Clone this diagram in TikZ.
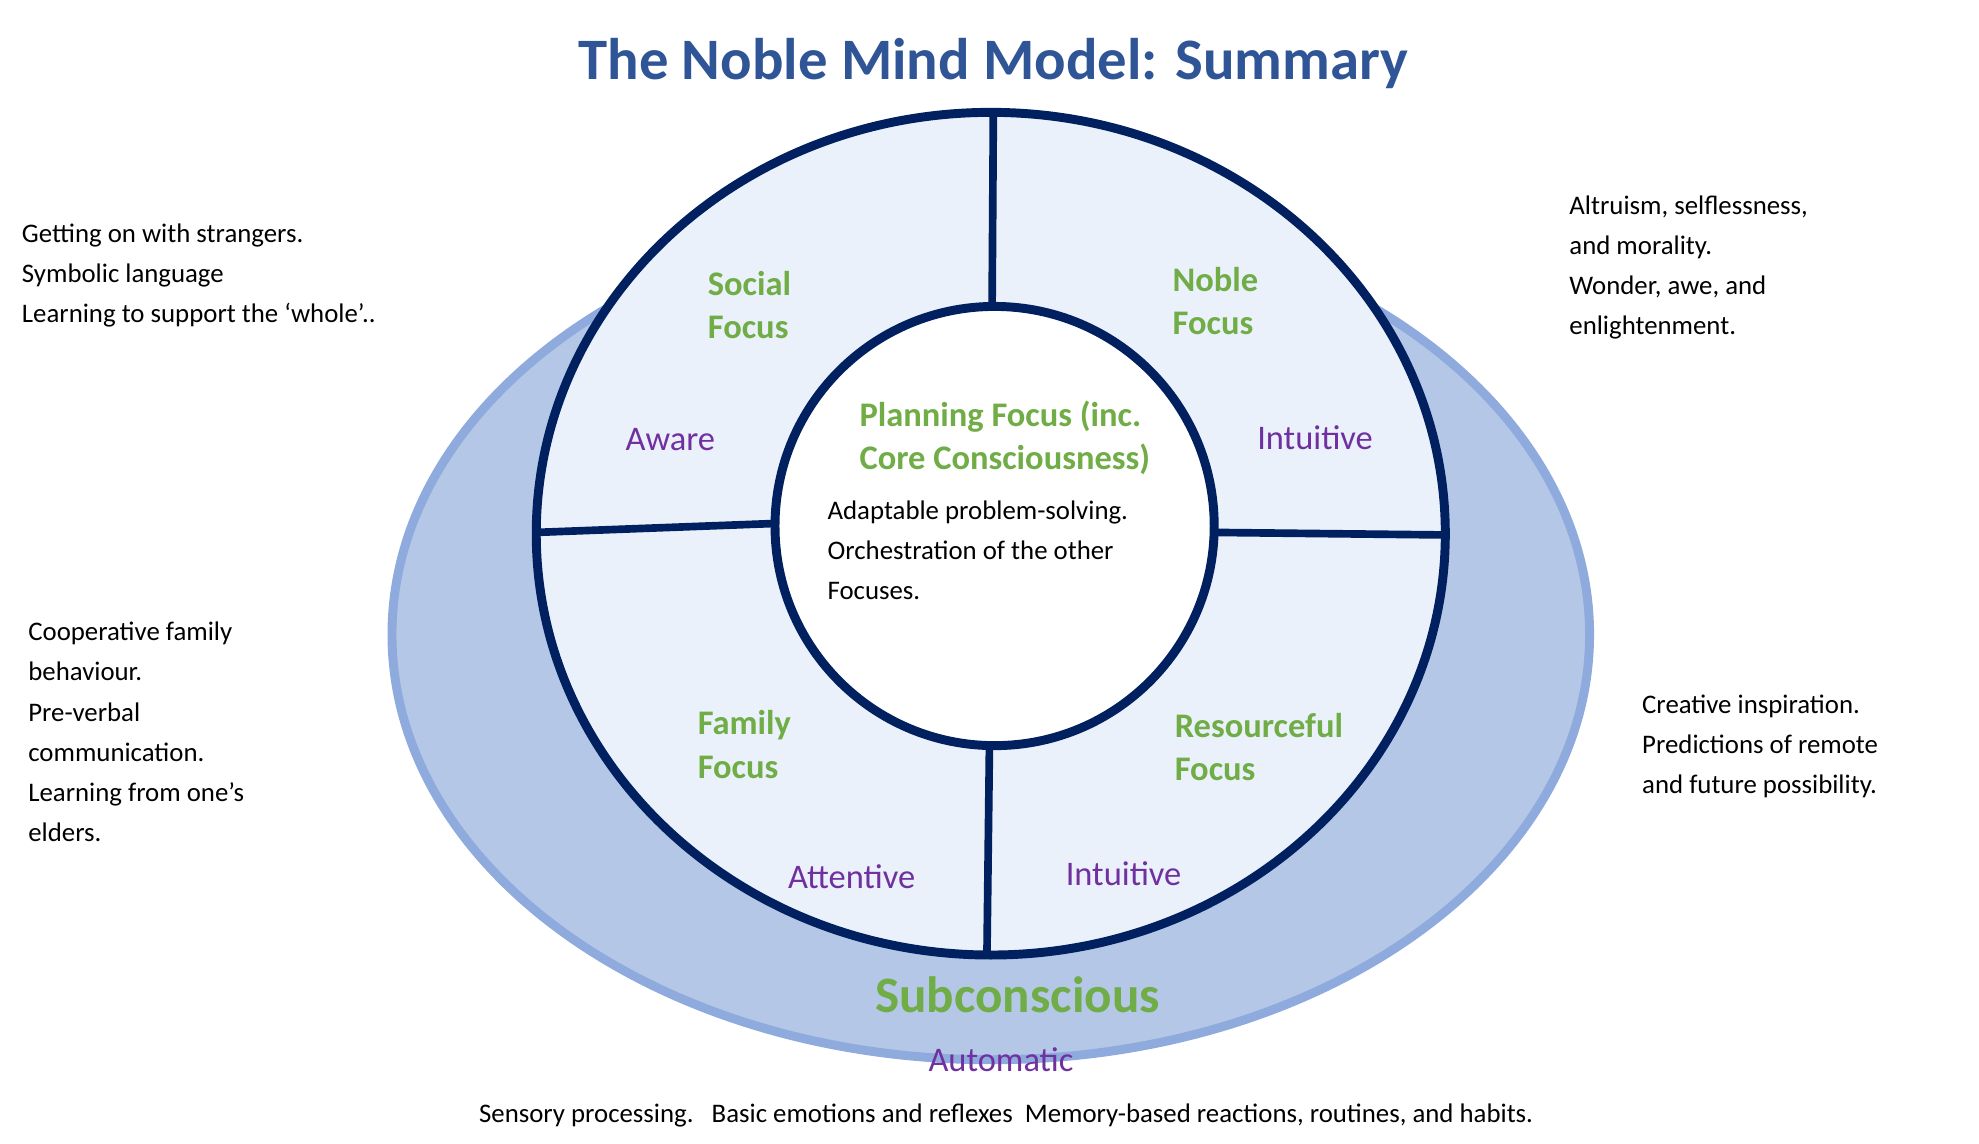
\documentclass[tikz,border=0pt]{standalone}
\usepackage{fontspec}
\setmainfont{Carlito}
\definecolor{navy}{HTML}{002060}
\definecolor{gr}{HTML}{70AD47}
\definecolor{pu}{HTML}{7030A0}
\definecolor{ti}{HTML}{2F5597}
\definecolor{outf}{HTML}{B4C7E7}
\definecolor{outb}{HTML}{8FAADC}
\definecolor{inf}{HTML}{EAF1FA}
\begin{document}
\begin{tikzpicture}[x=1pt,y=-1pt,
 green/.style={text=gr,font=\fontsize{27}{34}\selectfont\bfseries,align=left},
 purp/.style={text=pu,font=\fontsize{27}{32}\selectfont},
 body/.style={text=black,font=\fontsize{21}{31.5}\selectfont,align=left,anchor=north west,inner sep=0pt},
 div/.style={navy,line width=6pt}]
\useasboundingbox (0,0) rectangle (1550,896);
\node[text=ti,font=\fontsize{46}{50}\selectfont\bfseries] (title) at (778,50) {The Noble Mind Model: Summary};
\draw[outb,fill=outf,line width=7pt] (776,497) ellipse [x radius=469,y radius=333];
\draw[navy,fill=inf,line width=7pt] (776,418) ellipse [x radius=356,y radius=330];
\coordinate (t1) at (778,90); \coordinate (t2) at (777,245);
\coordinate (l1) at (420,417); \coordinate (l2) at (607,410);
\coordinate (r1) at (951,417); \coordinate (r2) at (1133,419);
\coordinate (b1) at (775,580); \coordinate (b2) at (773,748);
\draw[div] (t1)--(t2); \draw[div] (l1)--(l2); \draw[div] (r1)--(r2); \draw[div] (b1)--(b2);
\draw[navy,fill=white,line width=7pt] (779,412) circle (172);
\node[green] (soc) at (587,239) {Social\\Focus};
\node[green] (nob) at (952,236) {Noble\\Focus};
\node[green] (fam) at (583,583) {Family\\Focus};
\node[green] (res) at (986,585) {Resourceful\\Focus};
\node[green] (plan) at (787,343) {Planning Focus (inc.\\Core Consciousness)};
\node[body] (pt) at (648,392) {Adaptable problem-solving.\\Orchestration of the other\\Focuses.};
\node[purp] (aw) at (525,344) {Aware};
\node[purp] (in1) at (1030,343) {Intuitive};
\node[purp] (att) at (667,687) {Attentive};
\node[purp] (in2) at (880,684) {Intuitive};
\node[text=gr,font=\fontsize{40}{44}\selectfont\bfseries] (sub) at (797,779) {Subconscious};
\node[purp] (aut) at (784,830) {Automatic};
\node[body] (tl) at (17,175) {Getting on with strangers.\\Symbolic language\\Learning to support the ‘whole’..};
\node[body] (tr) at (1229,153) {Altruism, selflessness,\\and morality.\\Wonder, awe, and\\enlightenment.};
\node[body] (ml) at (22,487) {Cooperative family\\behaviour.\\Pre-verbal\\communication.\\Learning from one’s\\elders.};
\node[body] (mr) at (1286,544) {Creative inspiration.\\Predictions of remote\\and future possibility.};
\node[text=black,font=\fontsize{21}{25}\selectfont] (bot) at (788,874) {Sensory processing.\ \ \ Basic emotions and reflexes\ \ Memory-based reactions, routines, and habits.};
\end{tikzpicture}
\end{document}
